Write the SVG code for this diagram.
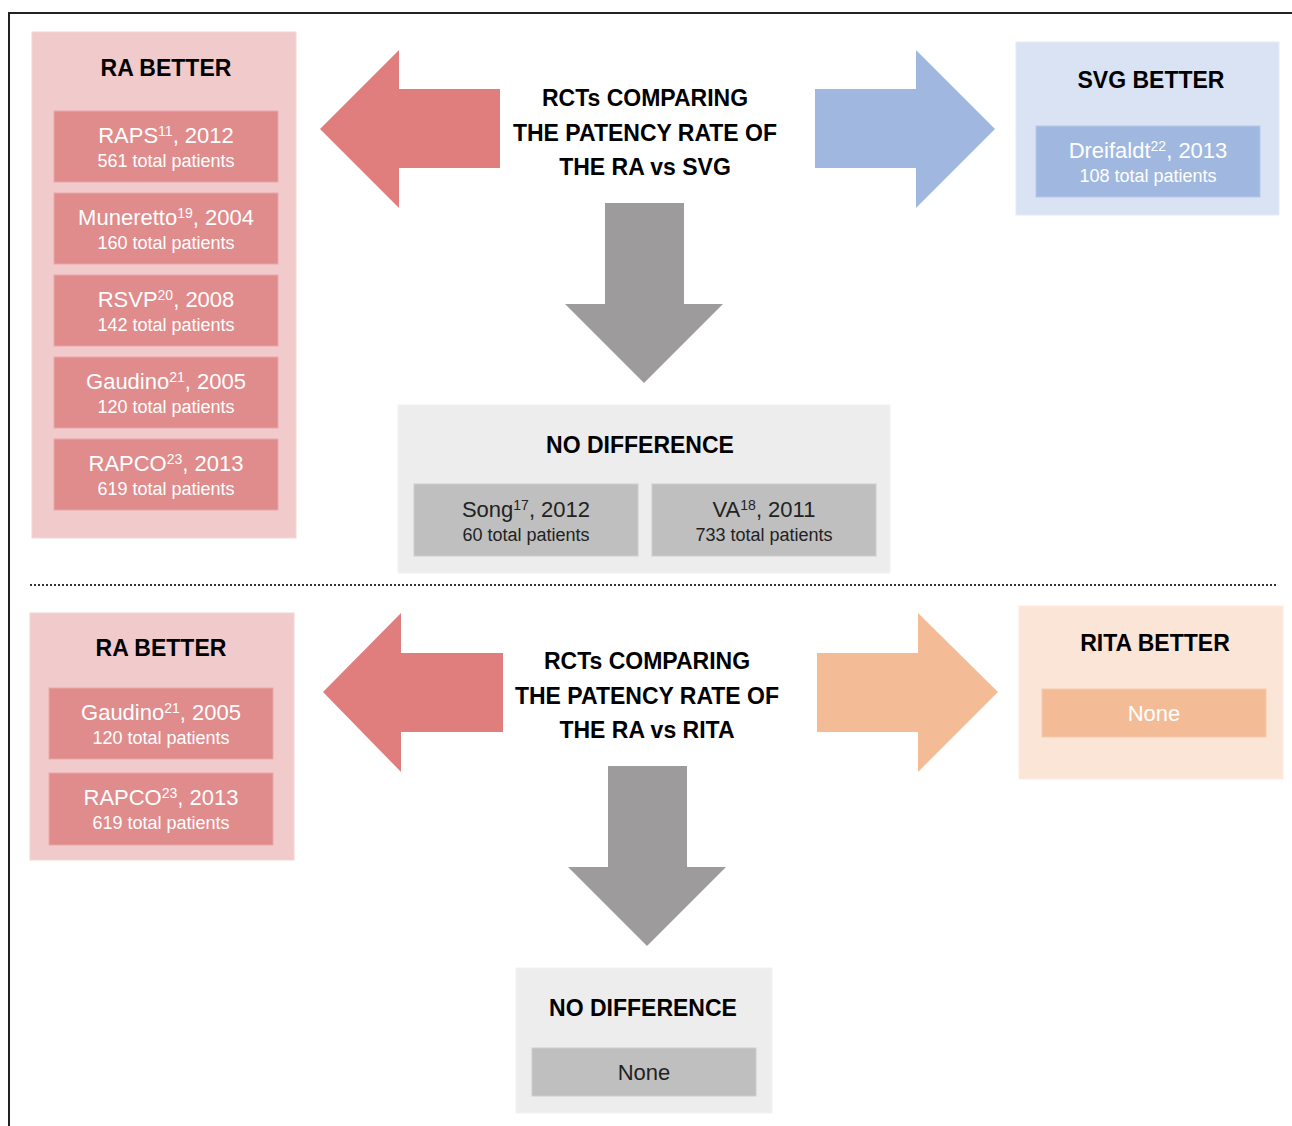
<svg xmlns="http://www.w3.org/2000/svg" width="1292" height="1126" viewBox="0 0 1292 1126">
<style>
  text { font-family: "Liberation Sans", Arial, sans-serif; text-anchor: middle; }
  .title { font-weight: bold; font-size: 23px; fill: #000; }
  .l1 { font-size: 22px; fill: #fff; }
  .l2 { font-size: 18px; fill: #fff; }
  .d1 { font-size: 22px; fill: #222; }
  .d2 { font-size: 18px; fill: #222; }
  .sup { font-size: 14px; }
  .pinkPanel { fill: #F1CBCC; stroke: #F4D6D6; stroke-width: 1; }
  .redBox { fill: #E08C8C; stroke: #E9A7A7; stroke-width: 1; }
  .bluePanel { fill: #DAE3F3; stroke: #E4EAF6; stroke-width: 1; }
  .blueBox { fill: #A0B8E0; stroke: #B4C7E7; stroke-width: 1; }
  .grayPanel { fill: #EDEDED; stroke: #F2F2F2; stroke-width: 1; }
  .grayBox { fill: #BFBFBF; stroke: #CDCDCD; stroke-width: 1; }
  .orangePanel { fill: #FBE5D7; stroke: #FCEBE0; stroke-width: 1; }
  .orangeBox { fill: #F4BC96; stroke: #F7CBAE; stroke-width: 1; }
</style>

<!-- frame -->
<path d="M9,1126 V13 H1292" fill="none" stroke="#222" stroke-width="2"/>

<!-- separator -->
<line x1="30" y1="585" x2="1278" y2="585" stroke="#333" stroke-width="2" stroke-dasharray="2,2"/>

<g id="connectors">
  <polygon points="320,129 399,50 399,89 500,89 500,168 399,168 399,208" fill="#E07E7E"/>
  <polygon points="995,129 916,50 916,89 815,89 815,168 916,168 916,208" fill="#A0B8E0"/>
  <polygon points="605,203 684,203 684,304 723,304 644,383 565,304 605,304" fill="#9D9B9B"/>
  <polygon points="323,692 401,613 401,653 503,653 503,732 401,732 401,772" fill="#E07E7E"/>
  <polygon points="998,692 918,613 918,653 817,653 817,732 918,732 918,772" fill="#F4BC96"/>
  <polygon points="608,766 687,766 687,867 726,867 647,946 568,867 608,867" fill="#9D9B9B"/>
</g>

<g id="top-center">
  <text class="title" x="645" y="106">RCTs COMPARING</text>
  <text class="title" x="645" y="141">THE PATENCY RATE OF</text>
  <text class="title" x="645" y="175">THE RA vs SVG</text>
</g>

<g id="top-ra-better">
  <rect class="pinkPanel" x="32" y="32" width="264" height="506"/>
  <text class="title" x="166" y="76">RA BETTER</text>
  <g id="raps">
    <rect class="redBox" x="54" y="111" width="224" height="71"/>
    <text class="l1" x="166" y="143">RAPS<tspan class="sup" dy="-7">11</tspan><tspan dy="7">, 2012</tspan></text>
    <text class="l2" x="166" y="167">561 total patients</text>
  </g>
  <g id="muneretto">
    <rect class="redBox" x="54" y="193" width="224" height="71"/>
    <text class="l1" x="166" y="225">Muneretto<tspan class="sup" dy="-7">19</tspan><tspan dy="7">, 2004</tspan></text>
    <text class="l2" x="166" y="249">160 total patients</text>
  </g>
  <g id="rsvp">
    <rect class="redBox" x="54" y="275" width="224" height="71"/>
    <text class="l1" x="166" y="307">RSVP<tspan class="sup" dy="-7">20</tspan><tspan dy="7">, 2008</tspan></text>
    <text class="l2" x="166" y="331">142 total patients</text>
  </g>
  <g id="gaudino-top">
    <rect class="redBox" x="54" y="357" width="224" height="71"/>
    <text class="l1" x="166" y="389">Gaudino<tspan class="sup" dy="-7">21</tspan><tspan dy="7">, 2005</tspan></text>
    <text class="l2" x="166" y="413">120 total patients</text>
  </g>
  <g id="rapco-top">
    <rect class="redBox" x="54" y="439" width="224" height="71"/>
    <text class="l1" x="166" y="471">RAPCO<tspan class="sup" dy="-7">23</tspan><tspan dy="7">, 2013</tspan></text>
    <text class="l2" x="166" y="495">619 total patients</text>
  </g>
</g>

<g id="svg-better">
  <rect class="bluePanel" x="1016" y="42" width="263" height="173"/>
  <text class="title" x="1151" y="88">SVG BETTER</text>
  <g id="dreifaldt">
    <rect class="blueBox" x="1036" y="126" width="224" height="71"/>
    <text class="l1" x="1148" y="158">Dreifaldt<tspan class="sup" dy="-7">22</tspan><tspan dy="7">, 2013</tspan></text>
    <text class="l2" x="1148" y="182">108 total patients</text>
  </g>
</g>

<g id="top-no-difference">
  <rect class="grayPanel" x="398" y="405" width="492" height="168"/>
  <text class="title" x="640" y="453">NO DIFFERENCE</text>
  <g id="song">
    <rect class="grayBox" x="414" y="484" width="224" height="72"/>
    <text class="d1" x="526" y="517">Song<tspan class="sup" dy="-7">17</tspan><tspan dy="7">, 2012</tspan></text>
    <text class="d2" x="526" y="541">60 total patients</text>
  </g>
  <g id="va">
    <rect class="grayBox" x="652" y="484" width="224" height="72"/>
    <text class="d1" x="764" y="517">VA<tspan class="sup" dy="-7">18</tspan><tspan dy="7">, 2011</tspan></text>
    <text class="d2" x="764" y="541">733 total patients</text>
  </g>
</g>

<g id="bottom-center">
  <text class="title" x="647" y="669">RCTs COMPARING</text>
  <text class="title" x="647" y="704">THE PATENCY RATE OF</text>
  <text class="title" x="647" y="738">THE RA vs RITA</text>
</g>

<g id="bottom-ra-better">
  <rect class="pinkPanel" x="30" y="613" width="264" height="247"/>
  <text class="title" x="161" y="656">RA BETTER</text>
  <g id="gaudino-bottom">
    <rect class="redBox" x="49" y="688" width="224" height="71"/>
    <text class="l1" x="161" y="720">Gaudino<tspan class="sup" dy="-7">21</tspan><tspan dy="7">, 2005</tspan></text>
    <text class="l2" x="161" y="744">120 total patients</text>
  </g>
  <g id="rapco-bottom">
    <rect class="redBox" x="49" y="773" width="224" height="72"/>
    <text class="l1" x="161" y="805">RAPCO<tspan class="sup" dy="-7">23</tspan><tspan dy="7">, 2013</tspan></text>
    <text class="l2" x="161" y="829">619 total patients</text>
  </g>
</g>

<g id="rita-better">
  <rect class="orangePanel" x="1019" y="606" width="264" height="173"/>
  <text class="title" x="1155" y="651">RITA BETTER</text>
  <g id="rita-none">
    <rect class="orangeBox" x="1042" y="689" width="224" height="48"/>
    <text class="l1" x="1154" y="721">None</text>
  </g>
</g>

<g id="bottom-no-difference">
  <rect class="grayPanel" x="516" y="968" width="256" height="145"/>
  <text class="title" x="643" y="1016">NO DIFFERENCE</text>
  <g id="nodiff-none">
    <rect class="grayBox" x="532" y="1048" width="224" height="48"/>
    <text class="d1" x="644" y="1080">None</text>
  </g>
</g>
</svg>
